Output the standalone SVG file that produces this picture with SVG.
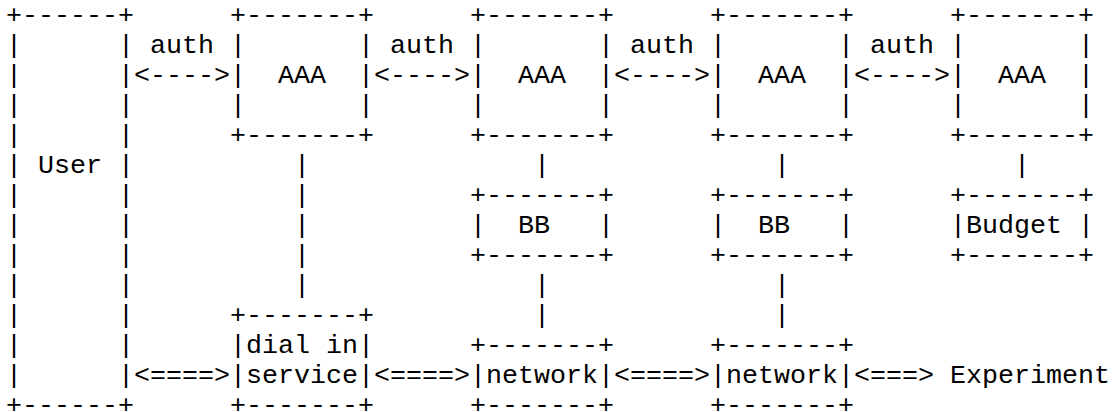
<svg xmlns="http://www.w3.org/2000/svg" width="1112" height="412" viewBox="0 0 1112 412">
<style>
text { font-family: "Liberation Mono", "Courier New", monospace; font-size: 26.667px; fill: #000; }
</style>
<rect width="1112" height="412" fill="#fff"/>
<g id="user">
<text x="6" y="22.5">+------+</text>
<text x="6 118" y="52.5">||</text>
<text x="6 118" y="82.5">||</text>
<text x="6 118" y="112.5">||</text>
<text x="6 118" y="142.5">||</text>
<text x="6 118" y="172.5">||</text>
<text x="38" y="172.5">User</text>
<text x="6 118" y="202.5">||</text>
<text x="6 118" y="232.5">||</text>
<text x="6 118" y="262.5">||</text>
<text x="6 118" y="292.5">||</text>
<text x="6 118" y="322.5">||</text>
<text x="6 118" y="352.5">||</text>
<text x="6 118" y="382.5">||</text>
<text x="6" y="412.5">+------+</text>
</g>
<g id="aaa1">
<text x="230" y="22.5">+-------+</text>
<text x="230 358" y="52.5">||</text>
<text x="230 358" y="82.5">||</text>
<text x="278" y="82.5">AAA</text>
<text x="230 358" y="112.5">||</text>
<text x="230" y="142.5">+-------+</text>
</g>
<g id="aaa2">
<text x="470" y="22.5">+-------+</text>
<text x="470 598" y="52.5">||</text>
<text x="470 598" y="82.5">||</text>
<text x="518" y="82.5">AAA</text>
<text x="470 598" y="112.5">||</text>
<text x="470" y="142.5">+-------+</text>
</g>
<g id="aaa3">
<text x="710" y="22.5">+-------+</text>
<text x="710 838" y="52.5">||</text>
<text x="710 838" y="82.5">||</text>
<text x="758" y="82.5">AAA</text>
<text x="710 838" y="112.5">||</text>
<text x="710" y="142.5">+-------+</text>
</g>
<g id="aaa4">
<text x="950" y="22.5">+-------+</text>
<text x="950 1078" y="52.5">||</text>
<text x="950 1078" y="82.5">||</text>
<text x="998" y="82.5">AAA</text>
<text x="950 1078" y="112.5">||</text>
<text x="950" y="142.5">+-------+</text>
</g>
<g id="bb1">
<text x="470" y="202.5">+-------+</text>
<text x="470 598" y="232.5">||</text>
<text x="518" y="232.5">BB</text>
<text x="470" y="262.5">+-------+</text>
</g>
<g id="bb2">
<text x="710" y="202.5">+-------+</text>
<text x="710 838" y="232.5">||</text>
<text x="758" y="232.5">BB</text>
<text x="710" y="262.5">+-------+</text>
</g>
<g id="budget">
<text x="950" y="202.5">+-------+</text>
<text x="950 1078" y="232.5">||</text>
<text x="966" y="232.5">Budget</text>
<text x="950" y="262.5">+-------+</text>
</g>
<g id="dialin">
<text x="230" y="322.5">+-------+</text>
<text x="230 358" y="352.5">||</text>
<text x="246" y="352.5">dial in</text>
<text x="230 358" y="382.5">||</text>
<text x="246" y="382.5">service</text>
<text x="230" y="412.5">+-------+</text>
</g>
<g id="network1">
<text x="470" y="352.5">+-------+</text>
<text x="470 598" y="382.5">||</text>
<text x="486" y="382.5">network</text>
<text x="470" y="412.5">+-------+</text>
</g>
<g id="network2">
<text x="710" y="352.5">+-------+</text>
<text x="710 838" y="382.5">||</text>
<text x="726" y="382.5">network</text>
<text x="710" y="412.5">+-------+</text>
</g>
<g id="experiment">
<text x="950" y="382.5">Experiment</text>
</g>
<g id="connectors">
<text x="150" y="52.5">auth</text>
<text x="390" y="52.5">auth</text>
<text x="630" y="52.5">auth</text>
<text x="870" y="52.5">auth</text>
<text x="134" y="82.5">&lt;----&gt;</text>
<text x="374" y="82.5">&lt;----&gt;</text>
<text x="614" y="82.5">&lt;----&gt;</text>
<text x="854" y="82.5">&lt;----&gt;</text>
<text x="294" y="172.5">|</text>
<text x="294" y="202.5">|</text>
<text x="294" y="232.5">|</text>
<text x="294" y="262.5">|</text>
<text x="294" y="292.5">|</text>
<text x="534" y="172.5">|</text>
<text x="534" y="292.5">|</text>
<text x="534" y="322.5">|</text>
<text x="774" y="172.5">|</text>
<text x="774" y="292.5">|</text>
<text x="774" y="322.5">|</text>
<text x="1014" y="172.5">|</text>
<text x="134" y="382.5">&lt;====&gt;</text>
<text x="374" y="382.5">&lt;====&gt;</text>
<text x="614" y="382.5">&lt;====&gt;</text>
<text x="854" y="382.5">&lt;===&gt;</text>
</g>
</svg>
